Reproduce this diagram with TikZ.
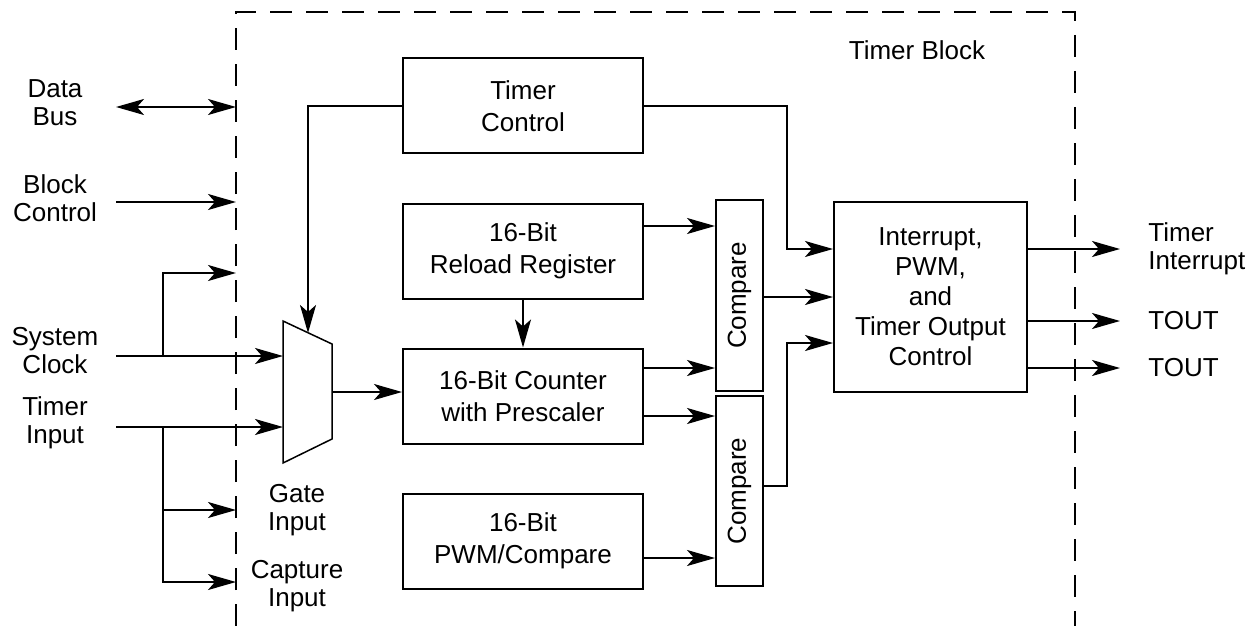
\documentclass[tikz,border=0pt]{standalone}
\usepackage{fontspec}
\setmainfont{Liberation Sans}
\usepackage{graphicx}
\usetikzlibrary{positioning, arrows.meta}

\begin{document}
\begin{tikzpicture}[
    x=0.5pt, y=-0.5pt,
    font=\fontsize{13}{16}\selectfont,
    blk/.style={rectangle, draw, line width=1pt, minimum width=120pt, minimum height=47.5pt, align=center, inner sep=0pt},
    cmp_box/.style={rectangle, draw, line width=1pt, minimum width=23.5pt, minimum height=95.5pt, inner sep=0pt},
    lbl/.style={align=center, inner sep=0pt, font=\fontsize{13}{14}\selectfont},
    border/.style={line width=1pt, dash pattern=on 11pt off 7pt},
    wire/.style={line width=1pt},
    arrow/.style={wire, -{Stealth[length=14pt, width=8pt, inset=3.5pt]}},
    dblarrow/.style={wire, {Stealth[length=14pt, width=8pt, inset=3.5pt]}-{Stealth[length=14pt, width=8pt, inset=3.5pt]}},
    node distance=24pt
]
\useasboundingbox (0,0) rectangle (1253,626);

% Timer block outline
\draw[border] (236,626) -- (236,12) -- (1075,12) -- (1075,626);
\node (blk_title) at (917,50) {Timer Block};

% Main blocks
\node[blk] (tmr_ctl) at (523,106) {Timer\\Control};
\node[blk, below=24pt of tmr_ctl] (reload) {16-Bit\\Reload Register};
\node[blk, below=24pt of reload] (counter) {16-Bit Counter\\with Prescaler};
\node[blk, below=24pt of counter] (pwm) {16-Bit\\PWM/Compare};

% Compare blocks
\node[cmp_box] (cmp1) at (739.5,295.5) {\rotatebox{90}{Compare}};
\node[cmp_box, minimum height=95pt, below=1.5pt of cmp1] (cmp2) {\rotatebox{90}{Compare}};

% Output control
\node[blk, minimum width=96.5pt, minimum height=95pt, font=\fontsize{13}{15}\selectfont] (irq) at (930.5,297) {Interrupt,\\PWM,\\and\\Timer Output\\Control};

% Input select (mux)
\coordinate (mux_tl) at (283,321);
\coordinate (mux_tr) at (332,344);
\coordinate (mux_br) at (332,439);
\coordinate (mux_bl) at (283,463);
\draw[line width=0.75pt] (mux_tl) -- (mux_tr) -- (mux_br) -- (mux_bl) -- cycle;
\coordinate (mux_clk) at (283,356);
\coordinate (mux_tin) at (283,427);
\coordinate (mux_out) at (332,392);
\coordinate (mux_sel) at (308,333);

% Left side signals
\node[lbl] (data_bus) at (55,103) {Data\\Bus};
\node[lbl] (blk_ctl) at (55,198) {Block\\Control};
\node[lbl] (sys_clk) at (55,351) {System\\Clock};
\node[lbl] (tmr_in) at (55,423) {Timer\\Input};
\node[lbl] (gate_in) at (297,510) {Gate\\Input};
\node[lbl] (cap_in) at (297,586) {Capture\\Input};

\coordinate (bus_src) at (116,107);
\coordinate (bus_pin) at (236,107);
\coordinate (ctl_src) at (116,202);
\coordinate (ctl_pin) at (236,202);
\coordinate (clk_src) at (116,356);
\coordinate (clk_tap) at (163,356);
\coordinate (clk_pin) at (236,273);
\coordinate (tin_src) at (116,427);
\coordinate (tin_tap) at (163,427);
\coordinate (gate_pin) at (236,510);
\coordinate (cap_pin) at (236,582);

\draw[dblarrow] (bus_src) -- (bus_pin);
\draw[arrow] (ctl_src) -- (ctl_pin);
\draw[arrow] (clk_src) -- (mux_clk);
\draw[arrow] (clk_tap) |- (clk_pin);
\draw[arrow] (tin_src) -- (mux_tin);
\draw[arrow] (tin_tap) |- (gate_pin);
\draw[arrow] (tin_tap) |- (cap_pin);

% Right side signals
\node[lbl, align=left, anchor=west] (tmr_irq) at (1148,249) {Timer\\Interrupt};
\node[lbl, anchor=west] (tout_a) at (1148,321) {TOUT};
\node[lbl, anchor=west] (tout_b) at (1148,368) {TOUT};

% Connections
\draw[arrow] (tmr_ctl.west) -| (mux_sel);
\draw[arrow] (tmr_ctl.east) -| (787,249) -- (irq.west |- 0,249);
\draw[arrow] (mux_out) -- (counter.west |- mux_out);
\draw[arrow] (reload.south) -- (counter.north);
\draw[arrow] (reload.east |- 0,226) -- (cmp1.west |- 0,226);
\draw[arrow] (counter.east |- 0,368) -- (cmp1.west |- 0,368);
\draw[arrow] (counter.east |- 0,416) -- (cmp2.west |- 0,416);
\draw[arrow] (pwm.east |- 0,558) -- (cmp2.west |- 0,558);
\draw[arrow] (cmp1.east |- 0,297) -- (irq.west |- 0,297);
\draw[arrow] (cmp2.east |- 0,486) -| (787,343) -- (irq.west |- 0,343);
\draw[arrow] (irq.east |- tmr_irq.west) -- ([xshift=-14pt]tmr_irq.west);
\draw[arrow] (irq.east |- tout_a.west) -- ([xshift=-14pt]tout_a.west);
\draw[arrow] (irq.east |- tout_b.west) -- ([xshift=-14pt]tout_b.west);

\end{tikzpicture}
\end{document}
